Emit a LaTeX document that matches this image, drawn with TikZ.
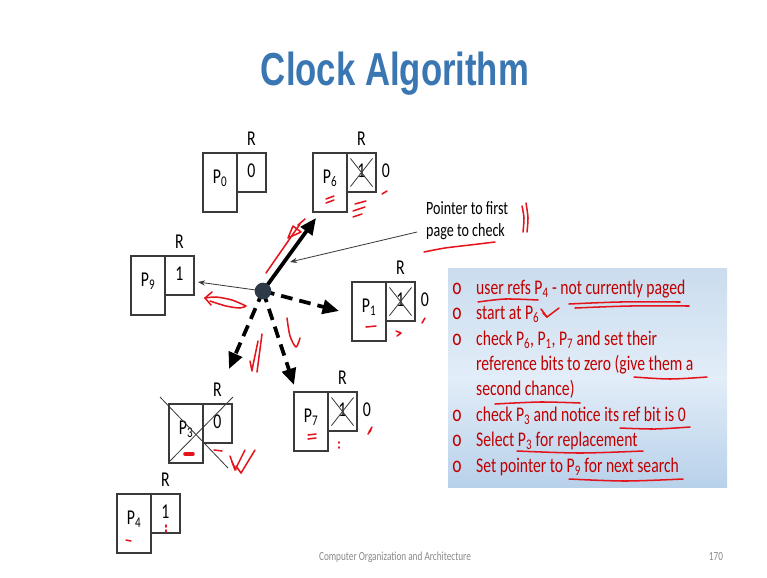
\documentclass[tikz,border=0pt]{standalone}
\usepackage{fontspec}
\setmainfont{Carlito}
\newfontfamily\headfont{Liberation Sans}
\usepackage{graphicx}
\usetikzlibrary{arrows.meta,calc}

\definecolor{titleblue}{HTML}{3A76B1}
\definecolor{notered}{HTML}{C00000}
\definecolor{ink}{HTML}{E3141C}
\definecolor{edge}{HTML}{3A3A3A}
\definecolor{hubfill}{HTML}{2E3A48}
\definecolor{footgray}{HTML}{8A8A8A}
\definecolor{paneltop}{RGB}{202,220,238}
\definecolor{panelmid}{RGB}{226,237,248}
\definecolor{panelbot}{RGB}{184,209,234}

% slide text is set narrower than its height
\newcommand\narrow[1]{\scalebox{0.75}[1]{#1}}
\newcommand\pg[1]{P\textsubscript{#1}}

\tikzset{
  pbody/.style={draw=edge, line width=0.9pt, fill=white, inner sep=0,
                minimum width=1.02cm, minimum height=1.77cm},
  pbit/.style={draw=edge, line width=0.9pt, fill=white, inner sep=0,
               minimum width=0.87cm, minimum height=1.17cm},
  plabel/.style={inner sep=0, text=black, font=\fontsize{18}{21}\selectfont},
  crossline/.style={draw=edge, line width=0.7pt},
  thickarrow/.style={line width=3.2pt, -{Triangle[length=14pt,width=12pt]}},
  dasharrow/.style={thickarrow, dash pattern=on 10pt off 6pt},
  thinarrow/.style={draw=edge, line width=0.7pt, -{Stealth[length=6pt,width=4.5pt]}},
  note/.style={anchor=base west, inner sep=0, text=notered,
               font=\fontsize{17.8}{21}\selectfont},
  bullet/.style={anchor=base, inner sep=0, text=notered,
               font=\fontsize{20}{22}\selectfont},
  ink/.style={draw=ink, line width=1.3pt, line cap=round, line join=round},
}

% a page: body box, reference-bit box, page label and "R" heading
% #1 name, #2/#3 top-left corner of the body box, #4 page number, #5 bit
\newcommand\pagepair[5]{%
  \node[pbody] (#1) at ({#2+17},{#3+29.5}) {};
  \node[pbit] (#1r) at ({#2+48.5},{#3+19.5}) {};
  \node[plabel] (#1name) at ({#2+17},{#3+25}) {\narrow{\pg{#4}}};
  \node[plabel] (#1head) at ({#2+48.5},{#3-14}) {\narrow{R}};
  \node[plabel] (#1val) at ({#2+48.5},{#3+18}) {\narrow{#5}};
}
% a reference bit that was cleared: crossed out, new value beside it
\newcommand\clearbit[3]{%
  \draw[crossline] ($(#1r.north west)+(4,6)$) -- ($(#1r.south east)+(-4,-6)$);
  \draw[crossline] ($(#1r.north east)+(-4,6)$) -- ($(#1r.south west)+(4,-6)$);
  \node[plabel] (#1new) at ({#2+73},{#3+18}) {\narrow{0}};
}

\begin{document}
\begin{tikzpicture}[x=0.03cm, y=-0.03cm]
\useasboundingbox[fill=white] (0,0) rectangle (767,577);

% heading
\node[anchor=base, inner sep=0, text=titleblue,
      font=\headfont\bfseries\fontsize{39.5}{45}\selectfont] (title) at (395,85)
      {\narrow{Clock Algorithm}};

% pages arranged round the clock
\pagepair{p0}{203}{153}{0}{0}
\pagepair{p6}{313}{153}{6}{1}
\pagepair{p9}{131}{256}{9}{1}
\pagepair{p1}{352}{282}{1}{1}
\pagepair{p7}{294}{392}{7}{1}
\pagepair{p3}{169}{404}{3}{0}
\pagepair{p4}{117}{494}{4}{1}
\clearbit{p6}{313}{153}
\clearbit{p1}{352}{282}
\clearbit{p7}{294}{392}

% P3 is evicted
\draw[crossline] (160,397) -- (228,468);
\draw[crossline] (233,397) -- (169,462);

% clock hand and the pages it sweeps
\coordinate (hub) at (263,291);
\coordinate (t6) at (316,218);
\coordinate (t1) at (339,311);
\coordinate (t3) at (229,369);
\coordinate (t7) at (294,385);
\coordinate (t9) at (198,282);
\draw[thinarrow] (hub) -- (t9);
\draw[dasharrow] (hub) -- (t1);
\draw[dasharrow] (hub) -- (t3);
\draw[dasharrow] (hub) -- (t7);
\draw[thickarrow] (hub) -- (t6);
\node[circle, fill=hubfill, minimum size=0.5cm, inner sep=0] (hubdot) at (hub) {};

% pointer caption
\node[anchor=base west, inner sep=0, font=\fontsize{16}{19.6}\selectfont] (ptrtxt) at (426,214)
  {\narrow{\begin{tabular}[t]{@{}l@{}}Pointer to first\\page to check\end{tabular}}};
\coordinate (ptrfoot) at (417,232);
\coordinate (ptrhit) at (290,262);
\draw[thinarrow] (ptrfoot) -- (ptrhit);

% notes panel
\node[inner sep=0, minimum width=8.37cm, minimum height=6.57cm,
      top color=paneltop, bottom color=panelbot, middle color=panelmid] (panel) at (587.5,377.5) {};

\foreach \yy in {294,319,345,421,446,472}
  \node[bullet] at (457,\yy) {\narrow{o}};
\node[note] (n1) at (476,294) {\narrow{user refs \pg{4} - not currently paged}};
\node[note] (n2) at (476,319) {\narrow{start at \pg{6}}};
\node[note] (n3) at (476,345) {\narrow{check \pg{6}, \pg{1}, \pg{7} and set their}};
\node[note] (n4) at (476,370) {\narrow{reference bits to zero (give them a}};
\node[note] (n5) at (476,395) {\narrow{second chance)}};
\node[note] (n6) at (476,421) {\narrow{check \pg{3} and notice its ref bit is 0}};
\node[note] (n7) at (476,446) {\narrow{Select \pg{3} for replacement}};
\node[note] (n8) at (476,472) {\narrow{Set pointer to \pg{9} for next search}};

% footer
\node[anchor=base, inner sep=0, text=footgray, font=\fontsize{10.5}{12}\selectfont] (foot) at (395,560)
  {\narrow{Computer Organization and Architecture}};
\node[anchor=base, inner sep=0, text=footgray, font=\fontsize{10.5}{12}\selectfont] (pageno) at (716,560)
  {\narrow{170}};

% ---- handwritten ink ----
% along the hand
\draw[ink] (266,273) -- (300,224);
\draw[ink] (288,238) -- (293,226) -- (301,232) -- cycle;
\draw[ink] (298,225) -- (305,219);
\draw[ink] plot[smooth] coordinates {(246,306) (232,300) (216,297) (205,298)};
\draw[ink] (205,298) -- (212,292);
\draw[ink] (205,298) -- (211,305);
\draw[ink] plot[smooth] coordinates {(210,301) (226,306) (240,308) (246,306)};
\draw[ink] (262,334) -- (257,372);
\draw[ink] (258,341) -- (252,370);
\draw[ink] (252,371) -- (250,361);
\draw[ink] plot[smooth] coordinates {(287,318) (290,336) (296,347) (300,338)};
% page marks
\draw[ink] (326,199) -- (334,196);
\draw[ink] (326,203) -- (334,200);
\draw[ink] plot[smooth] coordinates {(355,204) (366,201)};
\draw[ink] plot[smooth] coordinates {(353,211) (365,207)};
\draw[ink] plot[smooth] coordinates {(353,217) (362,214)};
\draw[ink] (382,194) -- (387,191);
\draw[ink] (366,327) -- (376,326);
\draw[ink] (396,331) -- (401,333) -- (397,336);
\draw[ink] (422,323) -- (425,318);
\draw[ink] (308,435) -- (316,434);
\draw[ink] (308,439) -- (316,438);
\draw[ink] (339,442) -- (339,443);
\draw[ink] (339,447) -- (339,448);
\draw[ink] (369,432) -- (372,427);
\draw[ink] (368,434) -- (371,430);
\draw[ink, line width=3pt] (185,454) -- (193,454);
\draw[ink] (214,450) -- (222,451);
\draw[ink] (230,456) -- (235,470) -- (245,450);
\draw[ink] (236,466) -- (241,473) -- (255,450);
\draw[ink] (232,462) -- (236,470);
\draw[ink] (126,540) -- (131,541);
\draw[ink] (166,525) -- (166,527);
\draw[ink] (166,530) -- (166,532);
% caption marks
\draw[ink] plot[smooth] coordinates {(424,252) (445,248) (470,245) (495,242)};
\draw[ink] plot[smooth] coordinates {(522,206) (524,218) (523,232)};
\draw[ink] plot[smooth] coordinates {(526,203) (528,218) (527,232)};
% notes marks
\draw[ink] plot[smooth] coordinates {(478,302) (505,299) (538,300)};
\draw[ink] plot[smooth] coordinates {(569,304) (620,302) (680,302)};
\draw[ink] plot[smooth] coordinates {(575,308) (630,306) (689,306)};
\draw[ink] (541,309) -- (547,317) -- (559,308);
\draw[ink] (547,317) -- (543,313);
\draw[ink] plot[smooth] coordinates {(634,377) (670,379) (707,377)};
\draw[ink] plot[smooth] coordinates {(495,404) (540,402) (580,403)};
\draw[ink] plot[smooth] coordinates {(620,428) (655,429) (690,427)};
\draw[ink] plot[smooth] coordinates {(517,451) (580,453) (643,451)};
\draw[ink] plot[smooth] coordinates {(569,479) (625,481) (683,479)};
\end{tikzpicture}
\end{document}
